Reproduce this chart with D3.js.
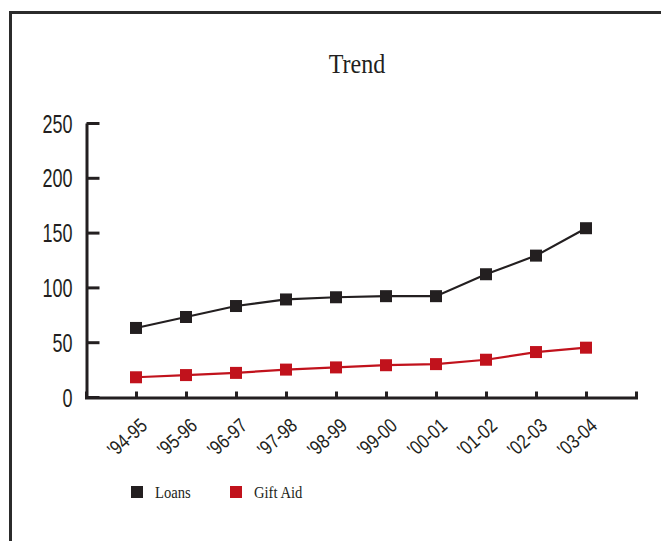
<!DOCTYPE html>
<html>
<head>
<meta charset="utf-8">
<script src="https://cdn.jsdelivr.net/npm/d3@7"></script>
<style>
  html, body { margin: 0; padding: 0; background: #fff; }
  svg { display: block; }
</style>
</head>
<body>
<script>
// Academic years on the horizontal axis
const years = ["'94-95", "'95-96", "'96-97", "'97-98", "'98-99", "'99-00", "'00-01", "'01-02", "'02-03", "'03-04"];
// Series values
const loans = [63, 73, 83, 89, 91, 92, 92, 112, 129, 154];
const giftAid = [18, 20, 22, 25, 27, 29, 30, 34, 41, 45];
// Vertical axis tick values
const yTicks = [0, 50, 100, 150, 200, 250];
// Legend entries
const seriesNames = ["Loans", "Gift Aid"];
const seriesColors = ["#231f20", "#c1121c"];

const W = 661, H = 541;
const ink = "#231f20";

const svg = d3.select("body").append("svg")
  .attr("width", W).attr("height", H);

// Outer frame: left and top rules only
svg.append("path")
  .attr("d", `M10.5,${H} V12.5 H${W}`)
  .attr("fill", "none")
  .attr("stroke", "#2b2b2b")
  .attr("stroke-width", 3);

// Title
svg.append("text")
  .attr("transform", "translate(357,73) scale(0.86,1)")
  .attr("text-anchor", "middle")
  .attr("font-family", "'Liberation Serif', 'DejaVu Serif', serif")
  .attr("font-size", 28)
  .attr("fill", ink)
  .text("Trend");

// Scales
const x = d3.scalePoint().domain(years).range([86, 636]).padding(1);
const y = d3.scaleLinear().domain([0, 250]).range([397, 123]);

// Y axis, ticks pointing inward
const yLabelScale = 0.72;
const gy = svg.append("g")
  .attr("transform", "translate(86.5,0)")
  .call(d3.axisLeft(y).tickValues(yTicks).tickSize(-13).tickSizeOuter(0));
gy.select(".domain").attr("stroke", ink).attr("stroke-width", 3);
gy.selectAll(".tick line").attr("stroke", ink).attr("stroke-width", 3);
gy.selectAll(".tick text")
  .attr("x", -14 / yLabelScale)
  .attr("dy", "0.36em")
  .attr("transform", `scale(${yLabelScale},1)`)
  .attr("font-family", "'Liberation Sans', Arial, sans-serif")
  .attr("font-size", 25)
  .attr("fill", ink);

// X axis, ticks pointing upward, rotated year labels
const xLabelScale = 0.82;
const gx = svg.append("g")
  .attr("transform", "translate(0,397.5)")
  .call(d3.axisBottom(x).tickSize(-6).tickSizeOuter(-6));
gx.select(".domain").attr("stroke", ink).attr("stroke-width", 3);
gx.selectAll(".tick line").attr("stroke", ink).attr("stroke-width", 3);
gx.selectAll(".tick text")
  .attr("x", 0).attr("y", 0).attr("dy", 0)
  .attr("text-anchor", "end")
  .attr("transform", `translate(12,30) rotate(-42) scale(${xLabelScale},1)`)
  .attr("font-family", "'Liberation Sans', Arial, sans-serif")
  .attr("font-size", 20)
  .attr("fill", ink);

// Series lines and square markers
const series = [loans, giftAid];
const line = d3.line()
  .x((d, i) => x(years[i]))
  .y(d => y(d));

const mk = 12;
series.forEach((vals, s) => {
  const g = svg.append("g");
  g.append("path")
    .datum(vals)
    .attr("d", line)
    .attr("fill", "none")
    .attr("stroke", seriesColors[s])
    .attr("stroke-width", 2.2);
  g.selectAll("rect")
    .data(vals)
    .join("rect")
    .attr("x", (d, i) => x(years[i]) - mk / 2)
    .attr("y", d => y(d) - mk / 2)
    .attr("width", mk)
    .attr("height", mk)
    .attr("fill", seriesColors[s]);
});

// Legend
const legendX = [131, 230];
const legend = svg.append("g");
seriesNames.forEach((name, i) => {
  legend.append("rect")
    .attr("x", legendX[i]).attr("y", 486)
    .attr("width", 12).attr("height", 12)
    .attr("fill", seriesColors[i]);
  legend.append("text")
    .attr("transform", `translate(${legendX[i] + 24},498) scale(0.86,1)`)
    .attr("font-family", "'Liberation Serif', 'DejaVu Serif', serif")
    .attr("font-size", 17)
    .attr("fill", ink)
    .text(name);
});
</script>
</body>
</html>
